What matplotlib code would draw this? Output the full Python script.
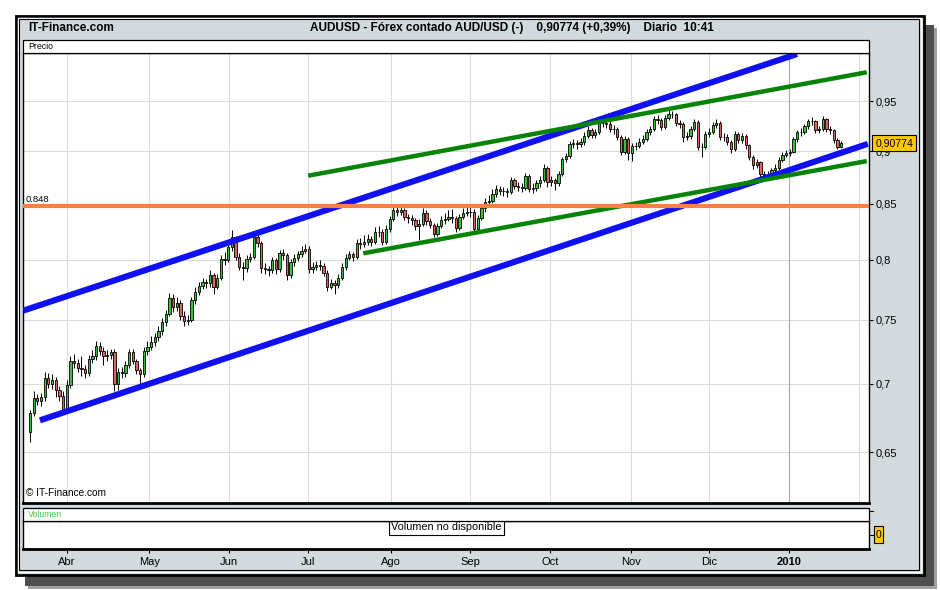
import matplotlib
matplotlib.use('Agg')
import matplotlib.pyplot as plt
import matplotlib.transforms as mtransforms
from matplotlib.patches import Rectangle
from matplotlib.ticker import NullLocator
import numpy as np

plt.rcParams['font.family'] = ['Liberation Sans', 'DejaVu Sans']

# daily candles AUD/USD, 18-mar-2009 .. 21-ene-2010 (trading-day index)
opens = [0.664, 0.678, 0.689, 0.687, 0.690, 0.704, 0.700, 0.703, 0.695, 0.691,
         0.680, 0.699, 0.717, 0.716, 0.712, 0.711, 0.708, 0.719, 0.721, 0.729,
         0.725, 0.721, 0.722, 0.724, 0.700, 0.709, 0.708, 0.714, 0.724, 0.717,
         0.710, 0.707, 0.725, 0.728, 0.732, 0.736, 0.741, 0.748, 0.755, 0.768,
         0.760, 0.764, 0.753, 0.749, 0.750, 0.766, 0.773, 0.778, 0.781, 0.780,
         0.787, 0.777, 0.785, 0.801, 0.800, 0.811, 0.820, 0.803, 0.794, 0.793,
         0.801, 0.803, 0.820, 0.815, 0.793, 0.792, 0.791, 0.800, 0.792, 0.806,
         0.804, 0.787, 0.798, 0.802, 0.805, 0.808, 0.810, 0.792, 0.794, 0.796,
         0.795, 0.789, 0.777, 0.780, 0.779, 0.785, 0.794, 0.802, 0.805, 0.803,
         0.815, 0.814, 0.816, 0.818, 0.816, 0.825, 0.825, 0.816, 0.827, 0.836,
         0.844, 0.843, 0.844, 0.838, 0.837, 0.835, 0.830, 0.832, 0.842, 0.834,
         0.831, 0.823, 0.830, 0.835, 0.836, 0.838, 0.837, 0.828, 0.838, 0.842,
         0.843, 0.8425, 0.827, 0.837, 0.846, 0.852, 0.853, 0.859, 0.864, 0.862,
         0.862, 0.861, 0.872, 0.867, 0.866, 0.865, 0.876, 0.864, 0.865, 0.869,
         0.872, 0.884, 0.870, 0.872, 0.869, 0.878, 0.892, 0.895, 0.907, 0.908,
         0.907, 0.909, 0.915, 0.921, 0.916, 0.919, 0.928, 0.928, 0.927, 0.922,
         0.922, 0.914, 0.899, 0.912, 0.898, 0.905, 0.905, 0.909, 0.912, 0.919,
         0.922, 0.932, 0.931, 0.924, 0.933, 0.937, 0.937, 0.928, 0.927, 0.914,
         0.915, 0.922, 0.929, 0.904, 0.9035, 0.917, 0.919, 0.926, 0.928, 0.914,
         0.914, 0.909, 0.9015, 0.917, 0.911, 0.915, 0.9055, 0.894, 0.8865, 0.889,
         0.878, 0.877, 0.8775, 0.8815, 0.884, 0.8915, 0.8965, 0.898, 0.8995, 0.9115,
         0.919, 0.919, 0.9245, 0.9295, 0.930, 0.9205, 0.922, 0.9315, 0.922, 0.9205,
         0.911, 0.904]

closes = [0.678, 0.689, 0.687, 0.690, 0.704, 0.700, 0.703, 0.695, 0.691, 0.680,
          0.699, 0.717, 0.716, 0.712, 0.711, 0.708, 0.719, 0.721, 0.729, 0.725,
          0.721, 0.722, 0.724, 0.700, 0.709, 0.708, 0.714, 0.724, 0.717, 0.710,
          0.707, 0.725, 0.728, 0.732, 0.736, 0.741, 0.748, 0.755, 0.768, 0.760,
          0.764, 0.753, 0.749, 0.750, 0.766, 0.773, 0.778, 0.781, 0.780, 0.787,
          0.777, 0.785, 0.801, 0.800, 0.811, 0.820, 0.803, 0.794, 0.793, 0.801,
          0.803, 0.820, 0.815, 0.793, 0.792, 0.791, 0.800, 0.792, 0.806, 0.804,
          0.787, 0.798, 0.802, 0.805, 0.808, 0.810, 0.792, 0.794, 0.796, 0.795,
          0.789, 0.777, 0.780, 0.779, 0.785, 0.794, 0.802, 0.805, 0.803, 0.815,
          0.814, 0.816, 0.818, 0.816, 0.825, 0.825, 0.816, 0.827, 0.836, 0.844,
          0.843, 0.844, 0.838, 0.837, 0.835, 0.830, 0.832, 0.842, 0.834, 0.831,
          0.823, 0.830, 0.835, 0.836, 0.838, 0.837, 0.828, 0.838, 0.842, 0.843,
          0.8425, 0.827, 0.837, 0.846, 0.852, 0.853, 0.859, 0.864, 0.862, 0.862,
          0.861, 0.872, 0.867, 0.866, 0.865, 0.876, 0.864, 0.865, 0.869, 0.872,
          0.884, 0.870, 0.872, 0.869, 0.878, 0.892, 0.895, 0.907, 0.908, 0.907,
          0.909, 0.915, 0.921, 0.916, 0.919, 0.928, 0.928, 0.927, 0.922, 0.922,
          0.914, 0.899, 0.912, 0.898, 0.905, 0.905, 0.909, 0.912, 0.919, 0.922,
          0.932, 0.931, 0.924, 0.933, 0.937, 0.937, 0.928, 0.927, 0.914, 0.915,
          0.922, 0.929, 0.904, 0.9035, 0.917, 0.919, 0.926, 0.928, 0.914, 0.914,
          0.909, 0.9015, 0.917, 0.911, 0.915, 0.9055, 0.894, 0.8865, 0.889, 0.878,
          0.877, 0.8775, 0.8815, 0.884, 0.8915, 0.8965, 0.898, 0.8995, 0.9115, 0.919,
          0.919, 0.9245, 0.9295, 0.930, 0.9205, 0.922, 0.9315, 0.922, 0.9205, 0.911,
          0.904, 0.90774]

highs = [0.680, 0.694, 0.692, 0.693, 0.709, 0.708, 0.707, 0.705, 0.698, 0.694,
         0.703, 0.721, 0.723, 0.719, 0.721, 0.714, 0.722, 0.726, 0.733, 0.732,
         0.728, 0.726, 0.727, 0.727, 0.712, 0.713, 0.717, 0.727, 0.727, 0.719,
         0.712, 0.728, 0.733, 0.737, 0.739, 0.745, 0.751, 0.758, 0.772, 0.771,
         0.769, 0.766, 0.757, 0.754, 0.769, 0.777, 0.781, 0.785, 0.784, 0.791,
         0.789, 0.788, 0.804, 0.807, 0.814, 0.826, 0.821, 0.806, 0.798, 0.804,
         0.806, 0.8225, 0.822, 0.817, 0.797, 0.795, 0.803, 0.802, 0.809, 0.810,
         0.806, 0.801, 0.805, 0.808, 0.812, 0.814, 0.812, 0.798, 0.799, 0.800,
         0.797, 0.791, 0.784, 0.783, 0.788, 0.797, 0.805, 0.808, 0.807, 0.818,
         0.819, 0.822, 0.823, 0.821, 0.829, 0.830, 0.827, 0.831, 0.839, 0.848,
         0.848, 0.847, 0.846, 0.841, 0.840, 0.837, 0.836, 0.846, 0.844, 0.837,
         0.833, 0.833, 0.839, 0.842, 0.844, 0.845, 0.839, 0.841, 0.846, 0.849,
         0.847, 0.845, 0.840, 0.849, 0.855, 0.858, 0.864, 0.868, 0.867, 0.866,
         0.865, 0.875, 0.874, 0.870, 0.869, 0.879, 0.878, 0.869, 0.872, 0.876,
         0.887, 0.886, 0.876, 0.874, 0.881, 0.894, 0.898, 0.910, 0.912, 0.911,
         0.913, 0.919, 0.925, 0.923, 0.922, 0.932, 0.933, 0.931, 0.930, 0.926,
         0.924, 0.916, 0.915, 0.914, 0.908, 0.909, 0.913, 0.916, 0.922, 0.925,
         0.935, 0.936, 0.933, 0.936, 0.941, 0.940, 0.938, 0.931, 0.929, 0.919,
         0.925, 0.932, 0.931, 0.908, 0.920, 0.923, 0.929, 0.932, 0.930, 0.918,
         0.917, 0.911, 0.920, 0.919, 0.918, 0.917, 0.907, 0.896, 0.892, 0.890,
         0.881, 0.881, 0.884, 0.887, 0.894, 0.899, 0.901, 0.902, 0.914, 0.921,
         0.923, 0.927, 0.932, 0.934, 0.931, 0.925, 0.9345, 0.933, 0.925, 0.922,
         0.913, 0.910]

lows = [0.657, 0.676, 0.684, 0.683, 0.687, 0.697, 0.696, 0.690, 0.687, 0.678,
        0.679, 0.697, 0.712, 0.709, 0.706, 0.704, 0.706, 0.716, 0.718, 0.722,
        0.714, 0.717, 0.719, 0.694, 0.695, 0.704, 0.705, 0.712, 0.715, 0.707,
        0.700, 0.705, 0.722, 0.726, 0.729, 0.733, 0.738, 0.745, 0.753, 0.756,
        0.757, 0.750, 0.745, 0.746, 0.748, 0.763, 0.770, 0.775, 0.776, 0.777,
        0.771, 0.775, 0.783, 0.796, 0.798, 0.808, 0.800, 0.791, 0.783, 0.790,
        0.798, 0.801, 0.811, 0.789, 0.788, 0.786, 0.789, 0.788, 0.790, 0.800,
        0.783, 0.785, 0.795, 0.799, 0.803, 0.806, 0.789, 0.789, 0.791, 0.791,
        0.786, 0.774, 0.775, 0.771, 0.776, 0.783, 0.791, 0.800, 0.799, 0.801,
        0.810, 0.811, 0.813, 0.812, 0.814, 0.820, 0.813, 0.814, 0.825, 0.834,
        0.839, 0.840, 0.835, 0.833, 0.831, 0.826, 0.8175, 0.830, 0.831, 0.828,
        0.820, 0.821, 0.828, 0.832, 0.834, 0.833, 0.825, 0.826, 0.836, 0.839,
        0.838, 0.823, 0.825, 0.835, 0.843, 0.849, 0.851, 0.856, 0.858, 0.857,
        0.856, 0.859, 0.864, 0.862, 0.861, 0.863, 0.861, 0.860, 0.862, 0.866,
        0.870, 0.866, 0.867, 0.863, 0.867, 0.876, 0.889, 0.893, 0.903, 0.902,
        0.904, 0.906, 0.913, 0.913, 0.913, 0.917, 0.924, 0.923, 0.919, 0.917,
        0.911, 0.896, 0.897, 0.891, 0.890, 0.901, 0.903, 0.907, 0.910, 0.916,
        0.920, 0.927, 0.921, 0.922, 0.931, 0.933, 0.925, 0.923, 0.909, 0.911,
        0.912, 0.920, 0.901, 0.8945, 0.902, 0.914, 0.917, 0.923, 0.911, 0.910,
        0.906, 0.898, 0.900, 0.908, 0.908, 0.902, 0.891, 0.883, 0.884, 0.874,
        0.873, 0.874, 0.875, 0.879, 0.882, 0.889, 0.894, 0.895, 0.898, 0.909,
        0.915, 0.917, 0.922, 0.926, 0.918, 0.918, 0.920, 0.919, 0.917, 0.908,
        0.902, 0.9025]

month_labels = ['Abr', 'May', 'Jun', 'Jul', 'Ago', 'Sep', 'Oct', 'Nov', 'Dic', '2010']
month_pos = [10.0, 32.5, 54.3, 75.8, 98.4, 119.9, 141.7, 163.7, 185.1, 206.9]
extra_grid = 226.0

price_ticks = [0.65, 0.7, 0.75, 0.8, 0.85, 0.9, 0.95]
price_labels = ['0,65', '0,7', '0,75', '0,8', '0,85', '0,9', '0,95']

# trend lines drawn on the chart: (index, price) end points
blue_upper = [(-1.83, 0.7574), (209.0, 0.9995)]
blue_lower = [(2.7, 0.6727), (228.3, 0.9070)]
green_upper = [(75.8, 0.8763), (228.0, 0.980)]
green_lower = [(90.8, 0.8058), (228.0, 0.8903)]
support = 0.848
last_price = 0.90774

W, H = 940, 590


def fx(x):
    return x / W


def fy(y):
    return 1 - y / H


def frect(x0, y0, x1, y1, **kw):
    r = Rectangle((fx(x0), fy(y1)), fx(x1) - fx(x0), fy(y0) - fy(y1),
                  transform=fig.transFigure, **kw)
    fig.add_artist(r)
    return r


fig = plt.figure(figsize=(9.4, 5.9), dpi=100)
fig.patch.set_facecolor('white')

# drop shadow
frect(28, 28, 937, 589, facecolor='#a0a0a0', edgecolor='none', zorder=-5)
frect(25, 25, 934, 586, facecolor='#4e4e4e', edgecolor='none', zorder=-4)
# outer frame
frect(15.5, 15.5, 923.5, 574.5, facecolor='#d3dadd', edgecolor='black', lw=2.0, zorder=-3)
frect(17.8, 17.8, 920.8, 571.8, facecolor='none', edgecolor='white', lw=1.0, zorder=-2.9)
frect(19.3, 19.3, 919.2, 570.3, facecolor='none', edgecolor='black', lw=0.8, zorder=-2.8)

# header strips
frect(23, 40, 869, 53, facecolor='white', edgecolor='black', lw=0.9, zorder=1)
frect(23, 508, 869, 521, facecolor='white', edgecolor='black', lw=0.9, zorder=1)

fig.text(fx(28), fy(28), 'IT-Finance.com', fontsize=8.5, fontweight='bold', va='center')
fig.text(fx(512), fy(28),
         'AUDUSD - Fórex contado AUD/USD (-)    0,90774 (+0,39%)    Diario  10:41',
         fontsize=8.5, fontweight='bold', va='center', ha='center')
fig.text(fx(28), fy(46.5), 'Precio', fontsize=6.3, va='center')
fig.text(fx(28), fy(514.5), 'Volumen', fontsize=6.3, va='center', color='#3ccf3c')

# price panel
ax = fig.add_axes([fx(23), fy(503), fx(869) - fx(23), fy(53) - fy(503)])
ax.set_facecolor('white')
ax.set_yscale('log')
ax.set_xlim(-1.91, 228.6)
ax.set_ylim(0.6152, 1.0006)

for p in price_ticks:
    ax.axhline(p, color='#dcdcdc', lw=0.8, zorder=0.5)
for m in month_pos[:-1]:
    ax.axvline(m, color='#dcdcdc', lw=0.8, zorder=0.5)
ax.axvline(month_pos[-1], color='#a8a8a8', lw=0.8, zorder=0.5)
ax.axvline(extra_grid, color='#dcdcdc', lw=0.8, zorder=0.5)

o = np.array(opens)
c = np.array(closes)
hi = np.array(highs)
lo = np.array(lows)
idx = np.arange(len(c))
up = c >= o

ax.vlines(idx, lo, hi, color='black', lw=0.7, zorder=2)
ax.bar(idx[up], (c - o)[up], bottom=o[up], width=0.62, color='#3dbe3d',
       edgecolor='black', lw=0.6, zorder=2.5)
ax.bar(idx[~up], (o - c)[~up], bottom=c[~up], width=0.62, color='#d96464',
       edgecolor='black', lw=0.6, zorder=2.5)

for seg in (blue_upper, blue_lower):
    xs, ys = zip(*seg)
    ax.plot(xs, ys, color='#1010f2', lw=4.4, solid_capstyle='butt', zorder=3)
for seg in (green_upper, green_lower):
    xs, ys = zip(*seg)
    ax.plot(xs, ys, color='#078407', lw=3.2, solid_capstyle='butt', zorder=3.2)
ax.axhline(support, color='#ff8040', lw=3.0, zorder=3.4)
ax.annotate('0.848', xy=(-1.1, support), xytext=(0, 1.6), textcoords='offset points',
            fontsize=6.8, va='bottom', ha='left', zorder=4)

ax.text(0.004, 0.012, '© IT-Finance.com', transform=ax.transAxes, fontsize=7.3,
        va='bottom', ha='left', zorder=4)

ax.set_xticks([])
ax.set_yticks(price_ticks)
ax.set_yticklabels(price_labels)
ax.yaxis.set_minor_locator(NullLocator())
ax.yaxis.tick_right()
ax.tick_params(axis='y', which='major', direction='out', length=3, width=0.8,
               pad=2, labelsize=8)
for s in ax.spines.values():
    s.set_linewidth(1.0)
ax.spines['bottom'].set_linewidth(2.0)

trans = mtransforms.blended_transform_factory(ax.transAxes, ax.transData)
ax.text(1.0075, last_price, '0,90774', transform=trans, fontsize=7.6, va='center',
        ha='left', clip_on=False, zorder=10,
        bbox=dict(boxstyle='square,pad=0.28', fc='#ffc800', ec='black', lw=0.8))

# volume panel
vax = fig.add_axes([fx(23), fy(549), fx(869) - fx(23), fy(521) - fy(549)])
vax.set_facecolor('white')
vax.set_xlim(ax.get_xlim())
vax.set_ylim(0, 1)
vax.set_yticks([])
vax.set_xticks(month_pos)
vax.set_xticklabels(month_labels)
vax.get_xticklabels()[-1].set_fontweight('bold')
vax.tick_params(axis='x', direction='out', length=3.2, width=0.8, pad=2.5, labelsize=8)
for s in vax.spines.values():
    s.set_linewidth(1.0)
vax.spines['bottom'].set_linewidth(2.0)
vax.text(0.5006, 0.77, 'Volumen no disponible', transform=vax.transAxes, fontsize=7.8,
         ha='center', va='center',
         bbox=dict(boxstyle='square,pad=0.25', fc='white', ec='black', lw=0.8))

frect(874.3, 526, 882.7, 543.3, facecolor='#ffc800', edgecolor='black', lw=0.8, zorder=5)
fig.text(fx(878.5), fy(535), '0', fontsize=7.5, ha='center', va='center', zorder=6)
fig.add_artist(plt.Line2D([fx(869), fx(874)], [fy(535), fy(535)], color='black', lw=0.8,
                          transform=fig.transFigure))
fig.add_artist(plt.Line2D([fx(869), fx(873)], [fy(511), fy(511)], color='black', lw=0.8,
                          transform=fig.transFigure))

fig.savefig('out.png', dpi=100)
